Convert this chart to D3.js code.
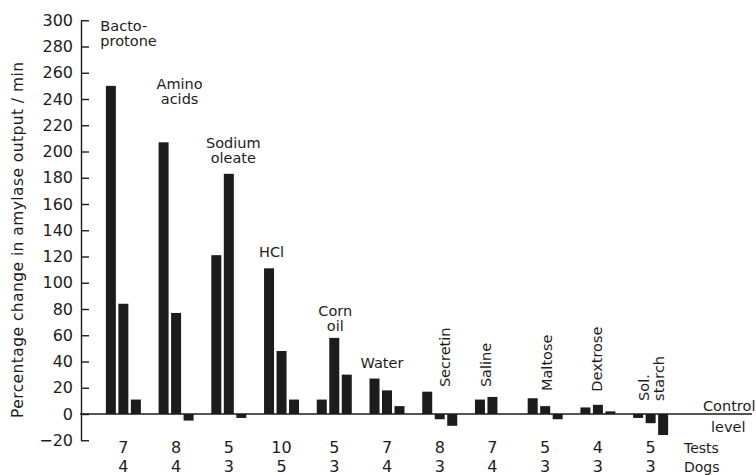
<!DOCTYPE html>
<html>
<head>
<meta charset="utf-8">
<script src="https://cdn.jsdelivr.net/npm/d3@7/dist/d3.min.js"></script>
<style>
  html, body { margin: 0; padding: 0; background: #ffffff; }
  svg { display: block; font-family: "DejaVu Sans", sans-serif; }
</style>
</head>
<body>
<svg id="chart" width="756" height="475"></svg>
<script>
// Percentage change in amylase output per test substance (three bars per substance)
const categories = ["Bactoprotone", "Amino acids", "Sodium oleate", "HCl", "Corn oil", "Water",
                    "Secretin", "Saline", "Maltose", "Dextrose", "Sol. starch"];
const series1 = [250, 207, 121, 111, 11, 27, 17, 11, 12, 5, -3];
const series2 = [84, 77, 183, 48, 58, 18, -4, 13, 6, 7, -7];
const series3 = [11, -5, -3, 11, 30, 6, -9, 0, -4, 2, -16];
const tests = [7, 8, 5, 10, 5, 7, 8, 7, 5, 4, 5];
const dogs = [4, 4, 3, 5, 3, 4, 3, 4, 3, 3, 3];
const yTicks = d3.range(-20, 301, 20);
const labelLines = [["Bacto-", "protone"], ["Amino", "acids"], ["Sodium", "oleate"], ["HCl"],
                    ["Corn", "oil"], ["Water"], ["Secretin"], ["Saline"], ["Maltose"],
                    ["Dextrose"], ["Sol.", "starch"]];

// Label placement: horizontal shift from the group centre (px), anchor level in data units,
// whether the label runs vertically, and text anchor.
const labelPlacement = [
  { dx: -23, at: 292, vertical: false, anchor: "start" },
  { dx: 3.5, at: 248, vertical: false, anchor: "middle" },
  { dx: 4.5, at: 203, vertical: false, anchor: "middle" },
  { dx: -10, at: 120, vertical: false, anchor: "middle" },
  { dx: 1, at: 75, vertical: false, anchor: "middle" },
  { dx: -5, at: 35, vertical: false, anchor: "middle" },
  { dx: 10, at: 20.5, vertical: true, anchor: "start" },
  { dx: -1, at: 20.5, vertical: true, anchor: "start" },
  { dx: 7, at: 17.5, vertical: true, anchor: "start" },
  { dx: 4.5, at: 17, vertical: true, anchor: "start" },
  { dx: -2, at: 10, vertical: true, anchor: "start" }
];

const svg = d3.select("#chart");
const ink = "#1c1c1c";

const y = d3.scaleLinear().domain([-20, 300]).range([440.25, 20.25]);
const x0 = d3.scaleBand().domain(categories).range([97, 677]);
const x1 = d3.scaleBand().domain([0, 1, 2]).range([0, 35]).paddingInner(0.2);
const center = c => x0(c) + x0.bandwidth() / 2;

const rows = categories.map((c, i) => ({
  cat: c, i, values: [series1[i], series2[i], series3[i]]
}));

// Bars
const groups = svg.append("g").selectAll("g").data(rows).join("g")
  .attr("transform", d => `translate(${center(d.cat) - 17.5},0)`);
groups.selectAll("rect").data(d => d.values.map((v, k) => ({ v, k }))).join("rect")
  .attr("x", d => x1(d.k))
  .attr("width", x1.bandwidth())
  .attr("y", d => Math.min(y(d.v), y(0)))
  .attr("height", d => Math.abs(y(d.v) - y(0)))
  .attr("fill", ink);

// Control level line
svg.append("line")
  .attr("x1", 80).attr("x2", 752)
  .attr("y1", y(0)).attr("y2", y(0))
  .attr("stroke", ink).attr("stroke-width", 1.6);

// Y axis with inward ticks
const yAxis = d3.axisLeft(y).tickValues(yTicks).tickSizeInner(-8).tickSizeOuter(0).tickPadding(8)
  .tickFormat(d3.format("d"));
const gy = svg.append("g").attr("transform", "translate(81,0)").call(yAxis);
gy.select(".domain").attr("stroke", ink).attr("stroke-width", 1.4);
gy.selectAll(".tick line").attr("stroke", ink).attr("stroke-width", 1.4);
gy.selectAll(".tick text").attr("fill", ink).attr("font-size", 16)
  .attr("font-family", "DejaVu Sans, sans-serif")
  .text(d => d < 0 ? "\u2212" + Math.abs(d) : d);

// Y axis title
svg.append("text")
  .attr("transform", "translate(23,240) rotate(-90)")
  .attr("text-anchor", "middle")
  .attr("font-size", 15.5)
  .attr("fill", ink)
  .attr("textLength", 356)
  .attr("lengthAdjust", "spacing")
  .text("Percentage change in amylase output / min");

// Substance labels
rows.forEach((d, i) => {
  const p = labelPlacement[i];
  const lines = labelLines[i];
  if (!p.vertical) {
    const t = svg.append("text")
      .attr("x", center(d.cat) + p.dx)
      .attr("y", y(p.at))
      .attr("text-anchor", p.anchor)
      .attr("font-size", 14.5)
      .attr("fill", ink);
    lines.forEach((s, j) => {
      t.append("tspan").attr("x", center(d.cat) + p.dx).attr("dy", j === 0 ? 0 : 15).text(s);
    });
  } else {
    lines.forEach((s, j) => {
      const bx = center(d.cat) + p.dx + j * 15;
      svg.append("text")
        .attr("transform", `translate(${bx},${y(p.at)}) rotate(-90)`)
        .attr("text-anchor", p.anchor)
        .attr("font-size", 14.5)
        .attr("fill", ink)
        .text(s);
    });
  }
});

// Tests / Dogs rows
const countRows = [{ vals: tests, name: "Tests", base: 453 }, { vals: dogs, name: "Dogs", base: 472 }];
countRows.forEach(r => {
  svg.append("g").selectAll("text").data(r.vals).join("text")
    .attr("x", (v, i) => center(categories[i]))
    .attr("y", r.base)
    .attr("text-anchor", "middle")
    .attr("font-size", 16)
    .attr("fill", ink)
    .text(v => v);
  svg.append("text")
    .attr("x", 684).attr("y", r.base)
    .attr("font-size", 14)
    .attr("fill", ink)
    .text(r.name);
});

// Control level caption
svg.append("text").attr("x", 703).attr("y", 411).attr("font-size", 14.5).attr("fill", ink).text("Control");
svg.append("text").attr("x", 711).attr("y", 432).attr("font-size", 14.5).attr("fill", ink).text("level");
</script>
</body>
</html>
